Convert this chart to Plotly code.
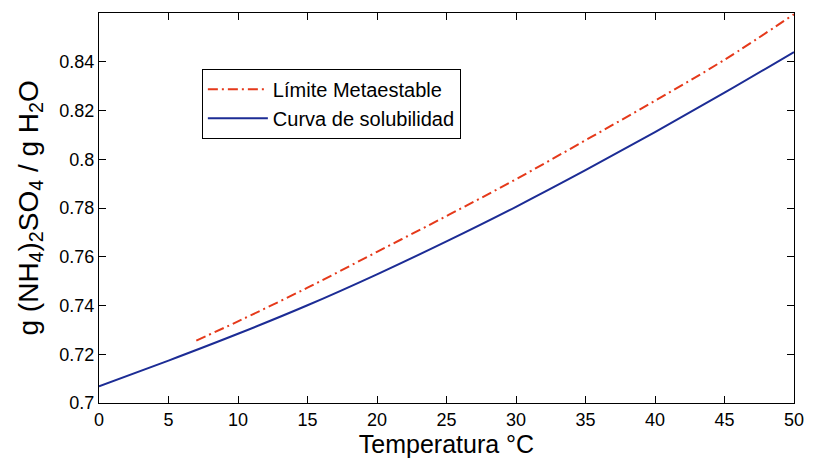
import plotly.graph_objects as go

# Solubility curve
temp_sol = [0, 5, 10, 15, 20, 25, 30, 35, 40, 45, 50]
sol_values = [0.7068, 0.7174, 0.7284, 0.7401, 0.7528, 0.7663, 0.7805, 0.7955, 0.8111, 0.8273, 0.8440]

# Metastable limit
temp_meta = [7, 10, 15, 20, 25, 30, 35, 40, 45, 50]
meta_values = [0.7256, 0.7335, 0.7473, 0.7620, 0.7767, 0.7918, 0.8078, 0.8240, 0.8408, 0.8595]

x_ticks = [0, 5, 10, 15, 20, 25, 30, 35, 40, 45, 50]
y_ticks = [0.70, 0.72, 0.74, 0.76, 0.78, 0.80, 0.82, 0.84]
y_tick_labels = ["0.7", "0.72", "0.74", "0.76", "0.78", "0.8", "0.82", "0.84"]

FONT = "Liberation Sans, Arial, sans-serif"

fig = go.Figure()
fig.add_trace(go.Scatter(
    x=temp_meta, y=meta_values, mode="lines", name="Límite Metaestable",
    line=dict(color="#E5391A", width=2, dash="10px,4px,2px,4px", shape="spline"),
))
fig.add_trace(go.Scatter(
    x=temp_sol, y=sol_values, mode="lines", name="Curva de solubilidad",
    line=dict(color="#1C2C95", width=2, shape="spline"),
))

axis_common = dict(
    showgrid=False, zeroline=False, showline=True, linecolor="black", linewidth=1,
    mirror="ticks", ticks="inside", ticklen=7, tickcolor="black", tickwidth=1,
    tickfont=dict(family=FONT, size=18, color="black"),
)

fig.update_layout(
    width=816, height=463,
    margin=dict(l=99, r=15, t=13, b=58),
    paper_bgcolor="white", plot_bgcolor="white",
    font=dict(family=FONT, color="black"),
    xaxis=dict(range=[0, 50], tickvals=x_ticks, ticktext=[str(v) for v in x_ticks],
               title=dict(text="Temperatura °C", font=dict(size=25, family=FONT), standoff=4),
               **axis_common),
    yaxis=dict(range=[0.7, 0.86], tickvals=y_ticks, ticktext=y_tick_labels,
               **axis_common),
    legend=dict(x=0.148, y=0.857, xanchor="left", yanchor="top",
                bgcolor="white", bordercolor="black", borderwidth=1,
                font=dict(family=FONT, size=20, color="black"),
                itemwidth=60),
    showlegend=True,
    annotations=[dict(
        text="g (NH<sub>4</sub>)<sub>2</sub>SO<sub>4</sub> / g H<sub>2</sub>O",
        xref="paper", yref="paper", x=-0.1, y=0.5, xanchor="center", yanchor="middle",
        textangle=-90, showarrow=False, font=dict(size=28, family=FONT, color="black"),
    )],
)

fig.write_html("out.html")
